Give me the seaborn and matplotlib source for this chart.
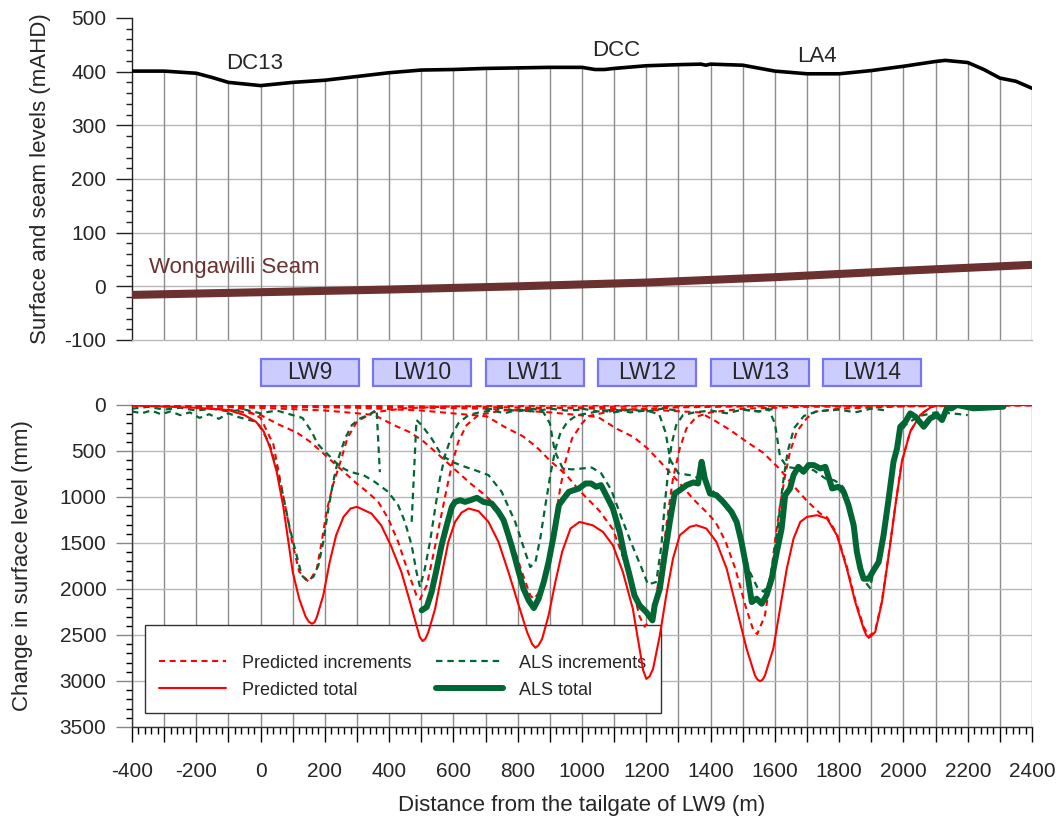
import numpy as np
import matplotlib
matplotlib.use("Agg")
import matplotlib.pyplot as plt
import matplotlib.transforms as mtransforms
from matplotlib.patches import Rectangle
from matplotlib.lines import Line2D
from matplotlib.ticker import MultipleLocator, FuncFormatter
import seaborn as sns

# ---------------- data ----------------
# surface profile (m, mAHD)
surf_x = [-400,-300,-200,-150,-100,-50,0,100,200,300,400,500,600,700,800,900,1000,1040,1070,1100,
          1200,1300,1370,1385,1400,1500,1600,1700,1800,1900,2000,2100,2130,2200,2250,2300,2350,2400]
surf_y = [401,401,397,389,380,377,374,380,384,391,398,403,404,406,407,408,408,404,404,406,
          411,413,414,412,414,412,401,396,396,402,410,419,421,417,404,388,382,369]
# Wongawilli seam
seam_x = [-400,0,400,800,1200,1600,2000,2400]
seam_y = [-16,-11,-6,0,7,17,29,40]

# longwall panels
lw_names = ["LW9","LW10","LW11","LW12","LW13","LW14"]
lw_start = [0,350,700,1050,1400,1750]
lw_width = 306

# predicted total subsidence (mm)
pt_x = [-400,-200,-100,-50,-15,0,10,30,50,70,85,100,120,140,150,160,168,175,195,215,235,258,
        280,300,345,375,405,438,465,485,495,504,513,522,543,563,584,605,625,647,678,709,740,771,
        803,829,845,855,865,876,896,917,938,964,992,1033,1065,1096,1127,1158,1179,1190,1200,1210,1221,1242,1262,1283,
        1304,1335,1356,1387,1418,1450,1481,1512,1538,1546,1554,1562,1569,1595,1616,1637,1658,1679,1700,1731,1762,1793,
        1824,1850,1876,1884,1892,1900,1912,1933,1954,1975,1995,2021,2052,2083,2104,2200,2400]
pt_y = [5,30,55,110,180,240,290,470,725,1090,1450,1815,2105,2300,2355,2378,2360,2305,2070,1706,1416,1216,
        1125,1107,1180,1307,1525,1815,2142,2396,2520,2566,2540,2468,2214,1851,1488,1271,1170,1125,1154,1271,1488,1815,
        2178,2468,2600,2639,2610,2541,2287,1924,1597,1343,1271,1307,1379,1525,1815,2214,2650,2880,2977,2950,2868,2505,2069,1670,
        1416,1325,1307,1343,1488,1779,2214,2650,2940,2985,3002,2985,2940,2650,2214,1779,1452,1271,1216,1198,1234,1416,
        1779,2142,2432,2500,2530,2510,2468,2142,1634,1089,617,290,109,29,5,0,0]

# predicted increments (mm)
p9_x = [-400,-200,-100,-50,0,40,60,80,100,120,150,175,190,205,225,250,270,300,350,450,600,900,1400,2400]
p9_y = [0,5,18,45,140,430,800,1160,1520,1810,1925,1780,1490,1160,870,600,360,180,80,35,15,8,3,0]
p10_x = [-400,-200,-100,0,60,112,154,195,247,299,334,366,397,428,459,485,496,517,537,558,
         579,595,615,641,678,750,900,1200,1700,2400]
p10_y = [5,25,50,109,218,298,399,526,690,853,951,1053,1234,1488,1815,2069,2113,1960,1634,1271,
         908,653,399,218,109,60,30,15,5,0]
p11_x = [-400,-100,100,200,300,354,414,466,508,549,601,653,688,720,751,782,813,839,850,876,
         896,917,932,948,969,1000,1021,1100,1300,1700,2400]
p11_y = [3,20,45,60,90,109,218,298,399,526,690,853,951,1053,1234,1488,1815,2069,2110,1997,
         1634,1234,908,617,363,200,120,60,25,8,0]
p12_x = [-400,0,300,500,704,764,816,858,899,951,992,1054,1096,1127,1158,1179,1195,1215,1231,1252,
         1268,1283,1304,1325,1356,1400,1500,1700,2400]
p12_y = [3,15,30,60,124,248,340,455,600,760,930,1150,1350,1650,2000,2300,2410,2323,2069,1597,
         1162,799,472,254,127,80,40,20,3]
p13_x = [-400,0,400,700,900,1049,1109,1161,1203,1244,1296,1348,1383,1415,1446,1477,1508,1533,1545,1569,
         1585,1600,1616,1632,1647,1668,1699,1725,1800,2000,2400]
p13_y = [3,10,25,40,80,130,260,350,470,620,820,1030,1150,1270,1480,1780,2180,2450,2490,2287,
         1924,1488,1089,762,508,290,145,73,40,15,3]
p14_x = [-400,0,500,900,1200,1366,1408,1460,1512,1564,1616,1658,1699,1741,1762,1793,1824,1850,1876,1892,
         1912,1933,1954,1975,1995,2021,2052,2083,2104,2200,2400]
p14_y = [0,5,15,30,50,80,160,270,400,520,700,880,1040,1180,1220,1400,1760,2120,2410,2515,
         2455,2130,1625,1085,612,286,106,27,0,0,0]

# ALS increments (mm)
a9_x = [-400,-370,-340,-310,-280,-250,-220,-190,-160,-130,-100,-70,-40,-13,8,29,50,70,91,112,
        128,143,164,180,195,211,226,242,263,284,310,340,361,371]
a9_y = [70,90,60,100,70,110,80,140,100,150,90,130,160,181,290,436,690,980,1343,1634,
        1851,1906,1869,1742,1488,1125,835,581,363,218,145,100,50,730]
a10_x = [-400,-350,-300,-250,-200,-150,-100,-50,0,50,100,130,159,177,195,216,237,258,278,299,
         320,355,397,428,449,470,485,496,511,527,543,558,574,595,615,647,680,720,760,800,
         850,900,950,1000]
a10_y = [40,20,50,30,60,40,70,50,90,60,110,140,290,420,490,560,635,690,726,745,
         762,835,944,1089,1270,1525,1815,1978,1779,1488,1125,799,545,327,200,109,80,60,90,50,
         70,40,60,50]
a11_x = [470,485,501,532,563,595,636,667,709,750,792,823,839,855,870,886,
         902,917,933,955,985,1020,1060,1100,1150,1200,1250,1300]
a11_y = [1270,163,218,363,545,617,672,708,762,944,1270,1597,1761,1706,1452,1089,
         750,480,300,180,110,90,60,80,50,70,40,60]
a12_x = [700,750,800,850,880,900,915,940,970,1000,1030,1059,1091,1122,1153,1184,1205,1231,1247,1257,
         1268,1278,1293,1314,1350,1400,1450,1500,1550,1600]
a12_y = [50,30,70,40,80,200,500,690,700,690,680,739,924,1217,1500,1761,1950,1924,1525,1089,
         726,436,218,109,80,60,90,50,70,40]
a13_x = [1000,1050,1100,1150,1200,1240,1260,1275,1300,1335,1370,1408,1450,1480,1500,1520,1545,1565,1580,1595,
         1610,1625,1640,1660,1690,1730,1800,1850,1900,1950]
a13_y = [40,70,50,80,60,100,300,600,744,762,800,940,1100,1300,1550,1800,1980,2030,1950,1700,
         1300,850,500,250,120,70,50,80,40,60]
a14_x = [1500,1550,1580,1600,1616,1637,1668,1720,1757,1783,1800,1814,1829,1845,1855,1866,1876,1885,1896,1907,
         1923,1938,1954,1969,1980,1990,2006,2021,2050,2100,2150,2200]
a14_y = [50,70,40,200,563,672,690,708,799,817,850,900,1050,1280,1560,1760,1870,1940,1990,1800,
         1700,1400,1000,600,450,300,220,180,120,80,90,110]

# ALS total (mm)
at_x = [501,517,532,548,563,579,595,605,621,636,652,673,693,719,740,756,771,782,792,803,
        818,834,850,865,881,896,912,928,943,959,974,990,1011,1028,1044,1059,1075,1096,1117,1132,
        1148,1163,1179,1200,1219,1226,1242,1257,1273,1288,1304,1325,1346,1361,1372,1382,1398,1418,1439,1465,
        1481,1496,1512,1528,1543,1559,1574,1590,1606,1621,1632,1647,1658,1673,1689,1705,1721,1741,1757,1778,
        1798,1814,1829,1845,1855,1866,1876,1892,1907,1923,1938,1954,1969,1980,1990,2006,2021,2037,2063,2083,
        2104,2120,2135,2150,2166,2218,2259,2311]
at_y = [2232,2196,2033,1779,1525,1307,1107,1053,1035,1053,1035,1009,1053,1071,1162,1252,1416,1543,1670,1815,
        1997,2124,2207,2105,1924,1706,1416,1089,1016,944,926,908,853,853,889,871,980,1125,1379,1634,
        1851,2069,2178,2251,2341,2178,1997,1634,1271,962,926,871,842,853,617,799,962,980,1053,1162,
        1271,1488,1779,2142,2105,2160,2069,1888,1597,1343,980,908,762,672,726,653,653,690,672,907,
        889,944,1089,1307,1597,1779,1888,1888,1797,1706,1416,1016,617,472,236,182,91,127,236,145,
        109,163,36,36,0,36,29,18]

pred_incs = [(p9_x, p9_y), (p10_x, p10_y), (p11_x, p11_y), (p12_x, p12_y), (p13_x, p13_y), (p14_x, p14_y)]
als_incs = [(a9_x, a9_y), (a10_x, a10_y), (a11_x, a11_y), (a12_x, a12_y), (a13_x, a13_y), (a14_x, a14_y)]
for xs, ys in pred_incs + als_incs + [(pt_x, pt_y), (at_x, at_y), (surf_x, surf_y)]:
    assert len(xs) == len(ys), (len(xs), len(ys))

# ---------------- style ----------------
sns.set_theme(style="white")
plt.rcParams['font.family'] = ['Liberation Sans', 'DejaVu Sans']
plt.rcParams['axes.unicode_minus'] = False

RED = "#ff0000"
GREEN = "#006633"
SEAM = "#6b3131"
VGRID = "#8c8c8c"
HGRID = "#b8b8b8"
DASH = (0, (2.9, 2.2))

fig = plt.figure(figsize=(10.62, 8.21), dpi=100)
ax1 = fig.add_axes([0.1243, 0.5859, 0.8475, 0.3922])
ax2 = fig.add_axes([0.1243, 0.1145, 0.8475, 0.3922])

# ---------------- top panel ----------------
ax1.set_xlim(-400, 2400)
ax1.set_ylim(-100, 500)
for gx in range(-300, 2401, 100):
    ax1.vlines(gx, -100, np.interp(gx, surf_x, surf_y), color=VGRID, lw=1.0, zorder=1)
for gy in [0, 100, 200, 300]:
    ax1.axhline(gy, color=HGRID, lw=1.0, zorder=0.9)

sns.lineplot(x=seam_x, y=seam_y, ax=ax1, color=SEAM, lw=5.8, zorder=3, solid_capstyle='butt')
sns.lineplot(x=surf_x, y=surf_y, ax=ax1, color="black", lw=2.6, zorder=4)

ax1.text(-20, 416, "DC13", ha="center", va="center", fontsize=16)
ax1.text(1105, 440, "DCC", ha="center", va="center", fontsize=16)
ax1.text(1730, 428, "LA4", ha="center", va="center", fontsize=16)
ax1.text(-347, 35, "Wongawilli Seam", ha="left", va="center", fontsize=16, color=SEAM)

for side in ["top", "right"]:
    ax1.spines[side].set_visible(False)
ax1.spines["left"].set_color("#222222")
ax1.spines["left"].set_linewidth(1.0)
ax1.spines["bottom"].set_color(HGRID)
ax1.spines["bottom"].set_linewidth(1.0)
ax1.yaxis.set_major_locator(MultipleLocator(100))
ax1.yaxis.set_minor_locator(MultipleLocator(20))
ax1.tick_params(axis="y", which="major", left=True, direction="out", length=11.5, width=1,
                color="#222222", labelsize=15, pad=7)
ax1.tick_params(axis="y", which="minor", left=True, direction="out", length=4.5, width=1, color="#222222")
ax1.tick_params(axis="x", which="both", bottom=False, labelbottom=False)
ax1.set_ylabel("Surface and seam levels (mAHD)", fontsize=16)
ax1.yaxis.set_label_coords(-0.09, 0.5)
ax1.set_xlabel("")

# ---------------- bottom panel ----------------
ax2.set_xlim(-400, 2400)
ax2.set_ylim(3500, 0)
ax2.xaxis.set_major_locator(MultipleLocator(100))
ax2.xaxis.set_minor_locator(MultipleLocator(20))
ax2.yaxis.set_major_locator(MultipleLocator(500))
ax2.yaxis.set_minor_locator(MultipleLocator(100))
ax2.xaxis.set_major_formatter(FuncFormatter(lambda v, p: f"{int(round(v))}" if int(round(v)) % 200 == 0 else ""))
ax2.grid(axis="x", which="major", color=VGRID, lw=1.0, zorder=0)
ax2.grid(axis="y", which="major", color=HGRID, lw=1.0, zorder=0)
ax2.set_axisbelow(True)

for xs, ys in pred_incs:
    sns.lineplot(x=xs, y=ys, ax=ax2, color=RED, lw=1.5, linestyle=DASH, zorder=2)
for xs, ys in als_incs:
    sns.lineplot(x=xs, y=ys, ax=ax2, color=GREEN, lw=1.6, linestyle=DASH, zorder=2.5, sort=False)
sns.lineplot(x=pt_x, y=pt_y, ax=ax2, color=RED, lw=1.5, zorder=3)
sns.lineplot(x=at_x, y=at_y, ax=ax2, color=GREEN, lw=4.3, zorder=4)

for side in ["top", "right"]:
    ax2.spines[side].set_visible(False)
for side in ["left", "bottom"]:
    ax2.spines[side].set_color("#333333")
    ax2.spines[side].set_linewidth(1.0)
ax2.tick_params(axis="x", which="major", bottom=True, direction="out", length=11, width=1,
                color="black", labelsize=15, pad=14)
ax2.tick_params(axis="x", which="minor", bottom=True, direction="out", length=4.7, width=1, color="black")
ax2.tick_params(axis="y", which="major", left=True, direction="out", length=11.5, width=1,
                color="#888888", labelsize=15, pad=7)
ax2.tick_params(axis="y", which="minor", left=True, direction="out", length=4.5, width=1, color="black")
ax2.set_ylabel("Change in surface level (mm)", fontsize=16)
ax2.yaxis.set_label_coords(-0.11, 0.5)
ax2.set_xlabel("Distance from the tailgate of LW9 (m)", fontsize=16, labelpad=10)

# panel boxes
trans = mtransforms.blended_transform_factory(ax2.transData, ax2.transAxes)
for name, x0 in zip(lw_names, lw_start):
    ax2.add_patch(Rectangle((x0, 1.059), lw_width, 0.084, transform=trans, facecolor="#ccccff",
                            edgecolor="#7676ee", lw=1.6, clip_on=False, zorder=5))
    ax2.text(x0 + lw_width / 2, 1.101, name, transform=trans, ha="center", va="center",
             fontsize=16.5, zorder=6)

# legend (drawn beneath the curves, as in the original)
handles = [Line2D([], [], color=RED, lw=1.5, linestyle=DASH),
           Line2D([], [], color=RED, lw=1.5),
           Line2D([], [], color=GREEN, lw=1.6, linestyle=DASH),
           Line2D([], [], color=GREEN, lw=4.3)]
labels = ["Predicted increments", "Predicted total", "ALS increments", "ALS total"]
leg = ax2.legend(handles, labels, ncol=2, loc="lower left",
                 bbox_to_anchor=(0.0144, 0.0435, 0.5733, 0.2795), mode="expand",
                 fontsize=13, frameon=True, fancybox=False, edgecolor="#333333", framealpha=1,
                 handlelength=3.7, handletextpad=0.9, borderpad=0.8, labelspacing=0.55,
                 borderaxespad=0, title=" ", title_fontsize=4)
leg.get_frame().set_linewidth(1.0)
leg.set_zorder(1.5)

fig.savefig("out.png", dpi=100)
